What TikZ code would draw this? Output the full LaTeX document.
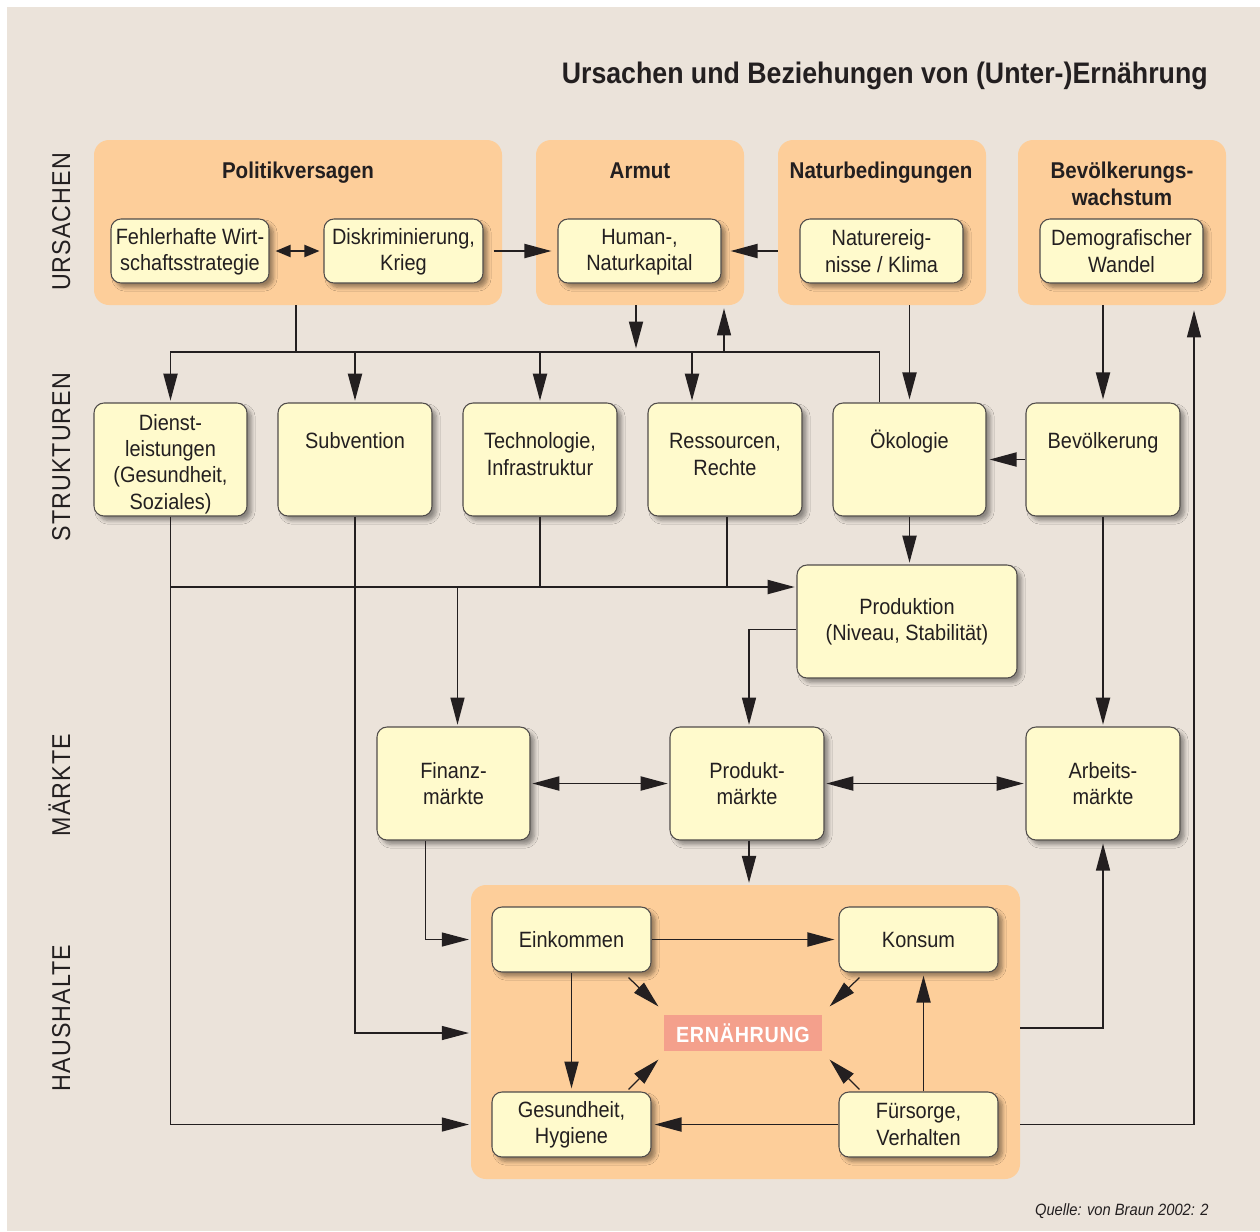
\documentclass[tikz,border=0pt]{standalone}
\usepackage{fontspec}
\setmainfont{Liberation Sans}[FakeStretch=0.9]
\newfontfamily\sidefont{Liberation Sans}[FakeStretch=0.9,LetterSpace=4]
\newfontfamily\ernfont{Liberation Sans}[FakeStretch=0.9,LetterSpace=3]
\usetikzlibrary{arrows.meta,calc,shadows.blur}
\definecolor{bgc}{RGB}{235,227,218}
\definecolor{orangeb}{RGB}{253,206,154}
\definecolor{yel}{RGB}{255,250,204}
\definecolor{bord}{RGB}{80,76,74}
\definecolor{ernc}{RGB}{244,160,140}
\definecolor{txtc}{RGB}{35,31,32}
\newcommand{\myfnt}{\fontsize{12.6pt}{15pt}\selectfont}
\newcommand{\myhdfnt}{\fontsize{13pt}{15.3pt}\selectfont\bfseries}
\tikzset{
  corners/.style n args={4}{minimum width={(#3-#1)*0.02cm}, minimum height={(#4-#2)*0.02cm},
    at={({(#1+#3)/2},{(#2+#4)/2})}},
  gbox/.style={fill=orangeb, rounded corners=0.3cm, inner sep=0pt, draw=none},
  ybox/.style={fill=yel, draw=bord, line width=0.6pt, rounded corners=0.2cm, inner sep=0pt,
    align=center, font=\myfnt, text=txtc,
    blur shadow={shadow xshift=0.09cm, shadow yshift=-0.09cm, shadow opacity=40, shadow blur steps=6}},
  txt/.style={align=center, font=\myfnt, inner sep=0pt, text=txtc},
  hd/.style={align=center, font=\myhdfnt, inner sep=0pt, text=txtc},
  tipa/.tip={Triangle[length=0.54cm,width=0.28cm]},
  tipb/.tip={Triangle[length=0.3cm,width=0.24cm]},
  arr/.style={-tipa, line width=1.1pt, draw=txtc, shorten >=1pt},
  darr/.style={tipa-tipa, line width=1.1pt, draw=txtc, shorten >=1pt, shorten <=1pt},
  ln/.style={line width=1.1pt, draw=txtc},
  thinl/.style={line width=0.7pt},
  sidelbl/.style={rotate=90, anchor=base, font=\sidefont\fontsize{14.7pt}{16pt}\selectfont, text=txtc, inner sep=0pt}
}
\begin{document}
\begin{tikzpicture}[x=0.02cm,y=-0.02cm]
\useasboundingbox (0,0) rectangle (1260,1231);
\fill[bgc] (7,7) rectangle (1260,1231);

% title and source
\node[anchor=base east, inner sep=0pt, font=\fontsize{16.9pt}{19pt}\selectfont\bfseries, text=txtc] (title) at (1208,83) {Ursachen und Beziehungen von (Unter-)Ernährung};
\node[anchor=base east, inner sep=0pt, font=\fontsize{9.3pt}{11pt}\selectfont\itshape, text=txtc] (quelle) at (1209,1215) {Quelle: von Braun 2002: 2};

% side labels
\node[sidelbl] (l-urs) at (70,222) {URSACHEN};
\node[sidelbl] (l-str) at (70,457) {STRUKTUREN};
\node[sidelbl] (l-mar) at (70,785) {MÄRKTE};
\node[sidelbl] (l-hau) at (70,1018) {HAUSHALTE};

% group boxes
\node[gbox, corners={94}{140}{502}{305}] (polit) {};
\node[gbox, corners={536}{140}{744}{305}] (armut) {};
\node[gbox, corners={778}{140}{986}{305}] (natb) {};
\node[gbox, corners={1018}{140}{1226}{305}] (bevw) {};
\node[gbox, corners={471}{885}{1020}{1179}] (haus) {};

\node[hd, anchor=base] (polit-t) at (298,178) {Politikversagen};
\node[hd, anchor=base] (armut-t) at (640,178) {Armut};
\node[hd, anchor=base] (natb-t) at (881,178) {Naturbedingungen};
\node[hd] (bevw-t) at (1122,184) {Bevölkerungs-\\wachstum};

% causes
\node[ybox, corners={111}{219}{269}{283}] (fehl) {\rule{0pt}{0.36cm}Fehlerhafte Wirt-\\schaftsstrategie};
\node[ybox, corners={324}{219}{483}{283}] (disk) {\rule{0pt}{0.36cm}Diskriminierung,\\Krieg};
\node[ybox, corners={558}{219}{721}{283}] (human) {\rule{0pt}{0.36cm}Human-,\\Naturkapital};
\node[ybox, corners={800}{219}{963}{283}] (natur) {Naturereig-\\nisse / Klima};
\node[ybox, corners={1040}{219}{1203}{283}] (demo) {Demografischer\\Wandel};

% structures
\node[ybox, corners={94}{403}{247}{516}] (dienst) {\rule{0pt}{0.5cm}Dienst-\\leistungen\\(Gesundheit,\\Soziales)};
\node[ybox, corners={278}{403}{432}{516}] (subv) {};
\node[txt, anchor=north] (subv-t) at (355,430) {\vphantom{Ö}Subvention};
\node[ybox, corners={463}{403}{617}{516}] (tech) {};
\node[txt, anchor=north] (tech-t) at (540,430) {\vphantom{Ö}Technologie,\\Infrastruktur};
\node[ybox, corners={648}{403}{802}{516}] (ress) {};
\node[txt, anchor=north] (ress-t) at (725,430) {\vphantom{Ö}Ressourcen,\\Rechte};
\node[ybox, corners={833}{403}{986}{516}] (okol) {};
\node[txt, anchor=north] (okol-t) at (909.5,430) {\vphantom{Ö}Ökologie};
\node[ybox, corners={1026}{403}{1180}{516}] (bevo) {};
\node[txt, anchor=north] (bevo-t) at (1103,430) {\vphantom{Ö}Bevölkerung};

\node[ybox, corners={797}{565}{1017}{678}] (prod) {Produktion\\(Niveau, Stabilität)};

% markets
\node[ybox, corners={377}{727}{530}{840}] (finanz) {Finanz-\\märkte};
\node[ybox, corners={670}{727}{824}{840}] (prodm) {Produkt-\\märkte};
\node[ybox, corners={1026}{727}{1180}{840}] (arbeit) {Arbeits-\\märkte};

% households
\node[ybox, corners={492}{907}{651}{972}] (eink) {Einkommen};
\node[ybox, corners={839}{907}{998}{972}] (kons) {Konsum};
\node[ybox, corners={492}{1092}{651}{1157}] (gesund) {Gesundheit,\\Hygiene};
\node[ybox, corners={839}{1092}{998}{1157}] (fuer) {Fürsorge,\\Verhalten};
\node[fill=ernc, inner sep=0pt, corners={664}{1015}{822}{1051}, font=\ernfont\fontsize{12.5pt}{14pt}\selectfont\bfseries, text=white] (ern) {ERNÄHRUNG};

% junction coordinates
\coordinate (j1) at (296,352);
\coordinate (j2) at (636,352);
\coordinate (j3) at (724,352);
\coordinate (h1) at (171,587);

% connectors among causes
\draw[tipb-tipb, line width=1.1pt, draw=txtc, shorten <=0.12cm, shorten >=0.08cm] (fehl.east) -- (disk.west);
\draw[arr, shorten <=0.2cm, shorten >=0.12cm] (disk.east) -- (human.west);
\draw[arr, shorten >=0.18cm] (natb.west |- human.east) -- (human.east);

% causes to structures
\draw[ln] (polit.south -| j1) -- (j1);
\draw[ln] (j1) -- (j3);
\draw[arr] (j1) -| (dienst.north);
\draw[arr] (j1) -| (subv.north);
\draw[arr] (j1) -| (tech.north);
\draw[arr] (j1) -| ($(ress.north)+(-33,0)$);
\draw[arr, shorten >=2pt] (armut.south -| j2) -- (j2);
\draw[arr, thinl, shorten >=0.06cm] ($(okol.north)+(-30,0)$) |- (j3) -- (j3 |- armut.south);
\draw[arr, shorten >=0.06cm] (natb.south -| okol.north) -- (okol.north);
\draw[arr, shorten >=0.06cm] (bevw.south -| bevo.north) -- (bevo.north);
\draw[arr, shorten >=0.06cm] (bevo.west) -- (okol.east);

% structures to production / markets / households
\draw[arr] (h1) -- (h1 -| prod.west);
\draw[ln] (tech.south) -- (tech.south |- h1);
\draw[ln] ($(ress.south)+(2,0)$) -- ($(ress.south |- h1)+(2,0)$);
\draw[arr, thinl] ($(finanz.north |- h1)+(4,0)$) -- ($(finanz.north)+(4,0)$);
\draw[arr] (okol.south) -- (okol.south |- prod.north);
\draw[arr, thinl] ($(prod.west)+(0,8)$) -| ($(prodm.north)+(2,0)$);
\draw[arr] (bevo.south) -- (arbeit.north);
\draw[arr, thinl] (dienst.south) |- (haus.west |- gesund.west);
\draw[arr, thinl] (subv.south) |- (haus.west |- ern.west);
\draw[arr, thinl] ($(finanz.south)+(-28,0)$) |- (haus.west |- eink.west);

% markets
\draw[darr] (finanz.east) -- (prodm.west);
\draw[darr] (prodm.east) -- (arbeit.west);
\draw[arr] ($(prodm.south)+(2,0)$) -- ($(prodm.south |- haus.north)+(2,0)$);

% households outwards
\draw[arr, thinl, shorten >=0.06cm] ($(haus.east |- ern.east)+(0,-5)$) -| (arbeit.south);
\draw[arr, thinl, shorten >=0.1cm] (haus.east |- gesund.east) -| ($(bevw.south)+(72,0)$);

% inside households
\draw[arr, shorten >=0.08cm] (eink.east) -- (kons.west);
\draw[arr, shorten >=0.06cm] (eink.south) -- (gesund.north);
\draw[arr, shorten >=0.06cm] (fuer.west) -- (gesund.east);
\draw[arr, shorten >=0.06cm] ($(fuer.north)+(5,0)$) -- ($(kons.south)+(5,0)$);
\draw[arr, thinl] ($(eink.south east)+(-23,5)$) -- ($(ern.north west)+(-4,-7)$);
\draw[arr, thinl] ($(kons.south west)+(21,5)$) -- ($(ern.north east)+(6,-7)$);
\draw[arr, thinl] ($(gesund.north east)+(-23,-2)$) -- ($(ern.south west)+(-4,7)$);
\draw[arr, thinl] ($(fuer.north west)+(21,-2)$) -- ($(ern.south east)+(6,7)$);
\end{tikzpicture}
\end{document}
